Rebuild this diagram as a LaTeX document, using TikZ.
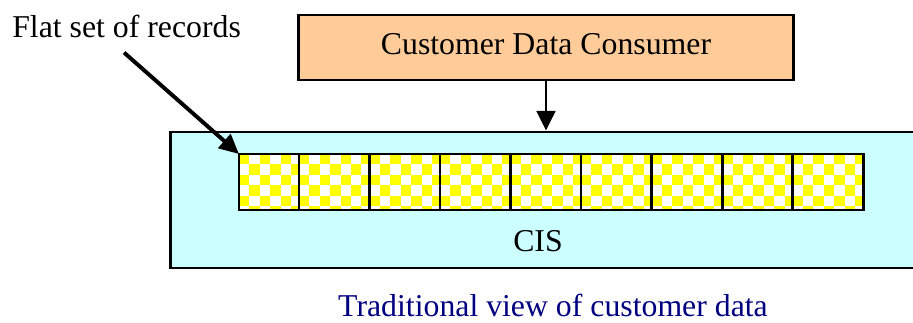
\documentclass[tikz,border=0pt]{standalone}
\usepackage{fontspec}
\setmainfont{Liberation Serif}
\usetikzlibrary{positioning,arrows.meta}
\definecolor{peach}{HTML}{FFCC99}
\definecolor{cisblue}{HTML}{CCFFFF}
\definecolor{checker}{HTML}{FFFF00}
\definecolor{navytext}{HTML}{000080}

\tikzset{
  txt/.style={inner sep=0pt, font=\fontsize{22.6}{27}\selectfont},
  box/.style={draw, line width=2.1pt},
  rec/.style={draw, line width=2pt, outer sep=0pt, inner sep=0pt,
    minimum width=1.7625cm, minimum height=1.4cm,
    path picture={
      \fill[white] (path picture bounding box.south west) rectangle (path picture bounding box.north east);
      \foreach \i in {0,...,7}
        \foreach \j in {0,...,5} {
          \pgfmathtruncatemacro\k{\i+\j}
          \ifodd\k\else
            \fill[checker] ([xshift=\i*0.26cm, yshift=-\j*0.26cm]path picture bounding box.north west)
              rectangle ++(0.26cm,-0.26cm);
          \fi
        }
    }},
  recarrow/.style={line width=2.8pt, -{Triangle[length=14pt, width=13pt]}},
  downarrow/.style={line width=1.4pt, -{Triangle[length=14pt, width=13.5pt]}}
}

\begin{document}
\begin{tikzpicture}[x=0.025cm, y=-0.025cm]
	\clip (0,0) rectangle (913,322);
	\node[box, fill=peach, txt, minimum width=12.35cm, minimum height=1.625cm,
	  text height=15pt, text depth=4.4pt] (cdc) at (546,47.5) {Customer Data Consumer};
	\node[box, fill=cisblue, minimum width=18.975cm, minimum height=3.4cm] (cis) at (550.5,200) {};
	\node[txt, anchor=base] (cislbl) at (538,251) {CIS};
	% records
	\node[rec, minimum width=1.5cm] (rec1) at (269,182) {};
	\foreach \n [count=\p from 1] in {2,...,9}
		\node[rec, right=0pt of rec\p] (rec\n) {};
	\node[txt, anchor=base west] (flat) at (12,37) {Flat set of records};
	\node[txt, anchor=base, text=navytext] (caption) at (553,316) {Traditional view of customer data};
	\draw[recarrow] ([shift={(-2.5,15)}]flat.south) -- (rec1.north west);
	\draw[downarrow] (cdc.south) -- (cdc.south |- cis.north);
\end{tikzpicture}
\end{document}
